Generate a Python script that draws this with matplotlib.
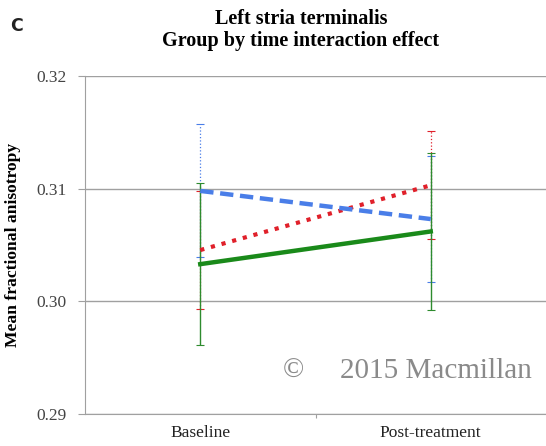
import matplotlib.pyplot as plt

# data
timepoints = ["Baseline", "Post-treatment"]
blue_mean = [0.3098, 0.3073]
blue_err = [0.0059, 0.0056]
red_mean = [0.30455, 0.3103]
red_err = [0.0052, 0.0048]
green_mean = [0.3033, 0.3062]
green_err = [0.0072, 0.0070]
yticks = [0.29, 0.30, 0.31, 0.32]
ytick_labels = ["0.29", "0.30", "0.31", "0.32"]

#_____________________________________________________________________________
def main():

    serif = ["Liberation Serif", "DejaVu Serif"]
    gcol = "#a0a0a0"

    fig = plt.figure(figsize=(5.46, 4.46), dpi=100)
    ax = fig.add_axes([0.1557, 0.0717, 0.8443, 0.758])

    xp = [0.5, 1.5]

    #error bars
    ax.errorbar(xp, blue_mean, yerr=blue_err, fmt="none", ecolor="#4a7ee8",
                elinewidth=0.9, capsize=3, capthick=0.8, zorder=2)
    ax.errorbar(xp, red_mean, yerr=red_err, fmt="none", ecolor="#e0202a",
                elinewidth=0.9, capsize=3, capthick=0.8, zorder=2)
    ax.errorbar(xp, green_mean, yerr=green_err, fmt="none", ecolor="#2e8b2e",
                elinewidth=1.0, capsize=3, capthick=0.8, zorder=3)
    #blue and red bars are dotted
    for c in ax.collections[:2]:
        c.set_linestyle(":")

    #means
    ax.plot(xp, green_mean, "-", color="#1a8a1a", lw=3.2, zorder=4)
    ax.plot(xp, red_mean, ":", color="#e0202a", lw=3.0, zorder=5)
    ax.plot(xp, blue_mean, "--", color="#4a7ee8", lw=3.2, dashes=(3, 1.5), zorder=6)

    ax.set_xlim(0, 2)
    ax.set_ylim(0.29, 0.32)

    ax.set_yticks(yticks)
    ax.set_yticklabels(ytick_labels, family=serif, fontsize=12.5, color="#444444")
    ax.set_xticks([1])
    ax.set_xticklabels([""])
    ax.set_xticks(xp, minor=True)
    ax.set_xticklabels(timepoints, minor=True, family=serif, fontsize=12.5, color="#222222")
    ax.tick_params(axis="x", which="major", length=3, color=gcol)
    ax.tick_params(axis="x", which="minor", length=0, pad=8)
    ax.tick_params(axis="y", length=5, color=gcol, pad=8)

    ax.grid(True, axis="y", color=gcol, lw=1.0)
    ax.set_axisbelow(True)
    for s in ["top", "right"]:
        ax.spines[s].set_visible(False)
    ax.spines["left"].set_color(gcol)
    ax.spines["bottom"].set_color(gcol)

    ax.set_ylabel("Mean fractional anisotropy", family=serif, fontsize=12.6,
                  fontweight="bold", labelpad=11)

    fig.text(0.551, 0.933, "Left stria terminalis\nGroup by time interaction effect",
             ha="center", va="center", family=serif, fontsize=14.5,
             fontweight="bold", linespacing=1.12)
    fig.text(0.018, 0.942, "C", ha="left", va="center", fontsize=12.5,
             fontweight="bold", color="#222222")

    #watermark
    fig.text(0.518, 0.168, "\u00a9", ha="left", va="center", family=serif,
             fontsize=20, color="#8a8a8a")
    fig.text(0.622, 0.168, "2015 Macmillan", ha="left", va="center",
             family=serif, fontsize=21, color="#8a8a8a")

    fig.savefig("out.png", dpi=100)
    plt.close()

#main

#_____________________________________________________________________________
if __name__ == "__main__":

    main()
